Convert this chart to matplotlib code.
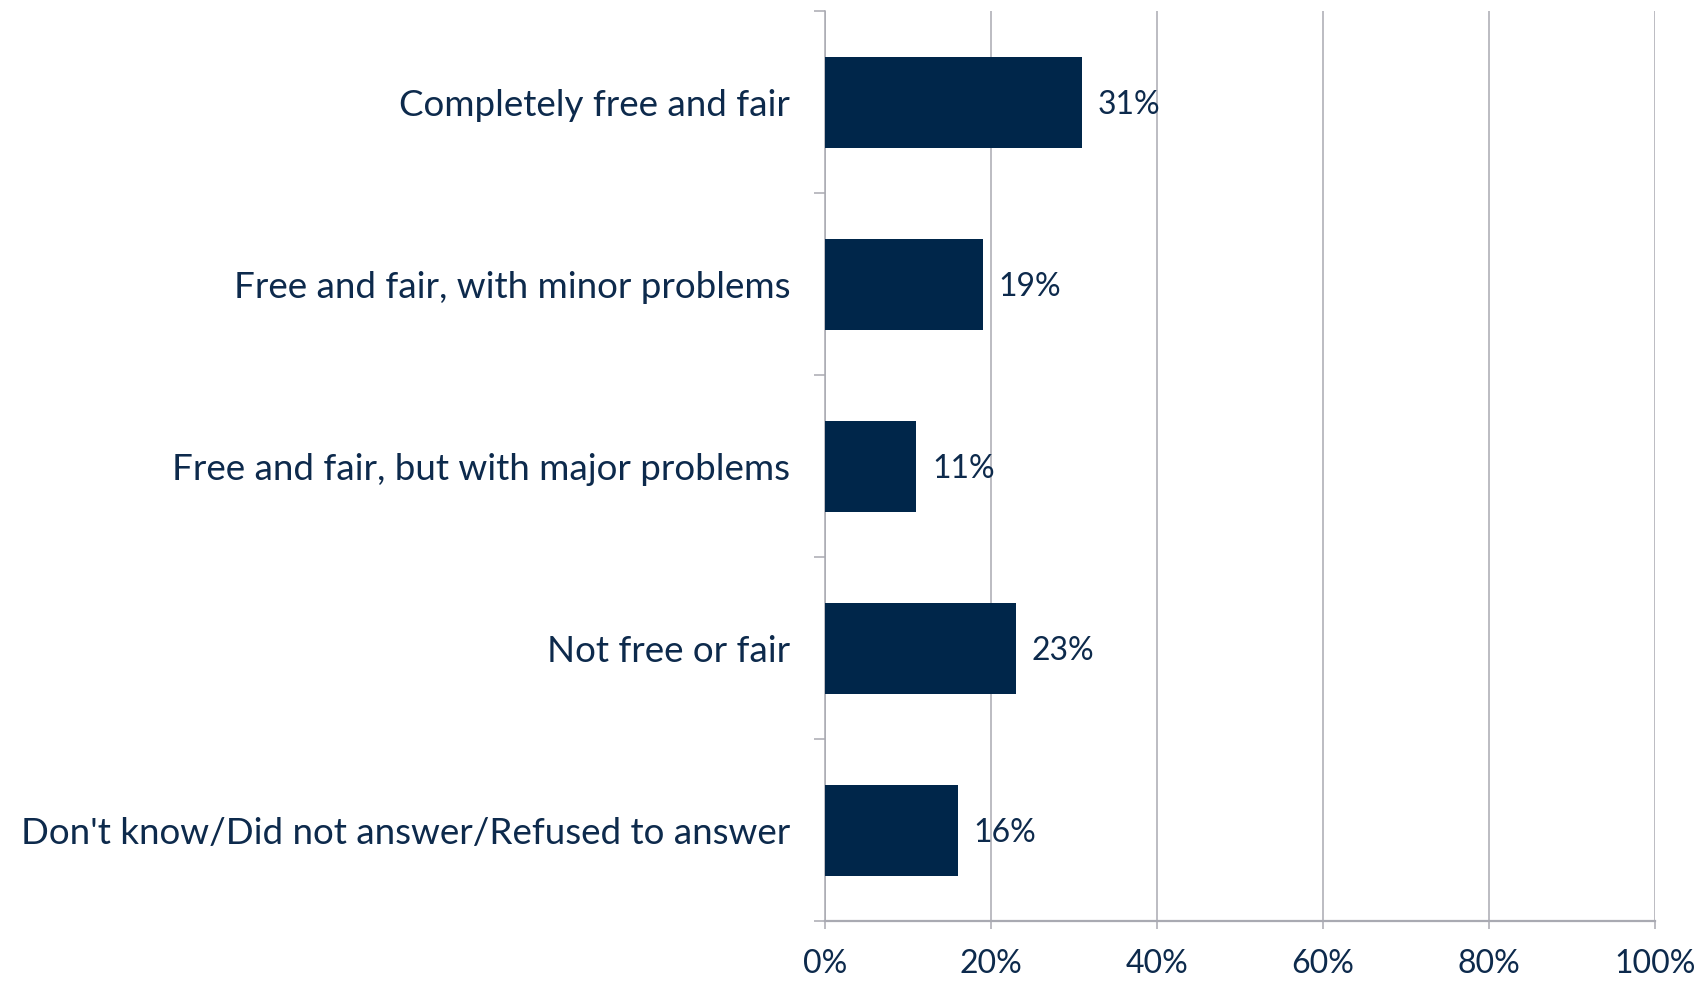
import matplotlib
matplotlib.use("Agg")
import matplotlib.pyplot as plt
import numpy as np

categories = [
    "Completely free and fair",
    "Free and fair, with minor problems",
    "Free and fair, but with major problems",
    "Not free or fair",
    "Don't know/Did not answer/Refused to answer",
]
values = [31, 19, 11, 23, 16]
xticks = [0, 20, 40, 60, 80, 100]
xticklabels = ["0%", "20%", "40%", "60%", "80%", "100%"]

navy = "#00264A"
text_col = "#0D2A4C"
grid_col = "#A9AAB2"

plt.rcParams['font.family'] = ['Lato', 'DejaVu Sans']

fig = plt.figure(figsize=(17, 9.82), dpi=100)
ax = fig.add_axes([825/1700, 1 - 921/982, (1655-825)/1700, (921-11)/982])

y = np.arange(len(categories))
ax.barh(y, values, height=0.5, color=navy, zorder=3)
for yi, v in zip(y, values):
    ax.text(v + 1.9, yi, f"{v}%", va="center_baseline", ha="left", fontsize=23, color=text_col)

ax.set_xlim(0, 100)
ax.set_ylim(len(categories) - 0.5, -0.5)
ax.set_xticks(xticks)
ax.set_xticklabels(xticklabels, fontsize=23, color=text_col)
ax.set_yticks(y)
ax.set_yticklabels(categories, fontsize=26.5, color=text_col)
ax.set_yticks(np.arange(-0.5, len(categories), 1), minor=True)
ax.tick_params(axis="y", which="major", length=0, pad=25)
ax.tick_params(axis="y", which="minor", length=8, width=1.1, color=grid_col)
ax.tick_params(axis="x", which="major", length=6, width=1.1, color=grid_col, pad=14)

ax.grid(axis="x", color=grid_col, linewidth=1.1, zorder=0)
for s in ["top", "right"]:
    ax.spines[s].set_visible(False)
ax.spines["left"].set_color(grid_col)
ax.spines["left"].set_linewidth(1.1)
ax.spines["bottom"].set_color(grid_col)
ax.spines["bottom"].set_linewidth(1.6)

fig.savefig("out.png", dpi=100)
